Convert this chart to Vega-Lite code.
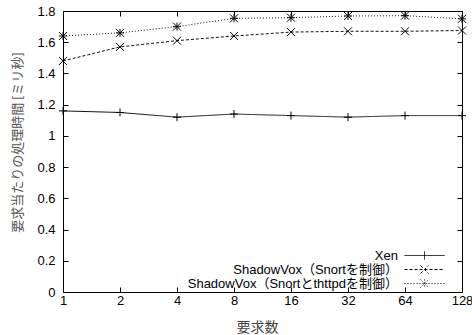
{
  "$schema": "https://vega.github.io/schema/vega-lite/v6.json",
  "width": 399,
  "height": 281,
  "autosize": "none",
  "padding": {"left": 63, "top": 11, "right": 10, "bottom": 43},
  "config": {
    "view": {"stroke": "#000", "strokeWidth": 1},
    "font": "Liberation Sans",
    "axis": {"grid": false, "domain": false, "tickColor": "#000", "tickSize": -5, "tickWidth": 1, "labelColor": "#000", "labelFont": "Liberation Sans", "labelFontSize": 13}
  },
  "data": {
    "values": [
      {"n": 1, "t": 1.16, "s": "Xen"},
      {"n": 2, "t": 1.15, "s": "Xen"},
      {"n": 4, "t": 1.12, "s": "Xen"},
      {"n": 8, "t": 1.14, "s": "Xen"},
      {"n": 16, "t": 1.13, "s": "Xen"},
      {"n": 32, "t": 1.12, "s": "Xen"},
      {"n": 64, "t": 1.13, "s": "Xen"},
      {"n": 128, "t": 1.13, "s": "Xen"},
      {"n": 1, "t": 1.48, "s": "ShadowVox（Snortを制御）"},
      {"n": 2, "t": 1.57, "s": "ShadowVox（Snortを制御）"},
      {"n": 4, "t": 1.61, "s": "ShadowVox（Snortを制御）"},
      {"n": 8, "t": 1.64, "s": "ShadowVox（Snortを制御）"},
      {"n": 16, "t": 1.665, "s": "ShadowVox（Snortを制御）"},
      {"n": 32, "t": 1.67, "s": "ShadowVox（Snortを制御）"},
      {"n": 64, "t": 1.67, "s": "ShadowVox（Snortを制御）"},
      {"n": 128, "t": 1.675, "s": "ShadowVox（Snortを制御）"},
      {"n": 1, "t": 1.64, "s": "ShadowVox（Snortとthttpdを制御）"},
      {"n": 2, "t": 1.66, "s": "ShadowVox（Snortとthttpdを制御）"},
      {"n": 4, "t": 1.70, "s": "ShadowVox（Snortとthttpdを制御）"},
      {"n": 8, "t": 1.753, "s": "ShadowVox（Snortとthttpdを制御）"},
      {"n": 16, "t": 1.757, "s": "ShadowVox（Snortとthttpdを制御）"},
      {"n": 32, "t": 1.768, "s": "ShadowVox（Snortとthttpdを制御）"},
      {"n": 64, "t": 1.77, "s": "ShadowVox（Snortとthttpdを制御）"},
      {"n": 128, "t": 1.75, "s": "ShadowVox（Snortとthttpdを制御）"}
    ]
  },
  "layer": [
    {
      "mark": {"type": "line", "color": "#111", "strokeWidth": 1},
      "encoding": {
        "x": {"field": "n", "type": "quantitative",
          "scale": {"type": "log", "base": 2, "domain": [1, 128], "nice": false},
          "axis": {"orient": "bottom", "values": [1, 2, 4, 8, 16, 32, 64, 128], "format": "d", "labelPadding": 7, "title": "要求数", "titleFont": "Noto Sans CJK JP", "titleFontSize": 14, "titleFontWeight": "normal", "titleColor": "#444", "titleX": 194, "titleY": 35, "titleBaseline": "middle", "titleAlign": "center", "labelFlush": false}},
        "y": {"field": "t", "type": "quantitative",
          "scale": {"domain": [0, 1.8], "nice": false, "zero": true},
          "axis": {"orient": "left", "values": [0, 0.2, 0.4, 0.6, 0.8, 1, 1.2, 1.4, 1.6, 1.8], "format": "~g", "labelPadding": 13, "title": "要求当たりの処理時間 [ミリ秒]", "titleFont": "Noto Sans CJK JP", "titleFontSize": 13, "titleFontWeight": "normal", "titleColor": "#555", "titleX": -46, "titleY": 131, "titleAngle": 270, "titleBaseline": "middle", "titleAlign": "center", "labelFlush": false}},
        "strokeDash": {"field": "s", "type": "nominal",
          "scale": {"domain": ["Xen", "ShadowVox（Snortを制御）", "ShadowVox（Snortとthttpdを制御）"], "range": [[1, 0], [3, 2], [1, 2]]},
          "legend": {
            "title": null, "orient": "none", "legendX": 355, "legendY": 238, "padding": 0, "rowPadding": -2,
            "symbolSize": 100, "symbolStrokeWidth": 1, "symbolStrokeColor": "#000",
            "labelAlign": "right", "labelOffset": -33, "labelLimit": 0,
            "labelFont": "Liberation Sans, Noto Sans CJK JP", "labelFontSize": 13, "labelColor": "#000",
            "encode": {"symbols": {"update": {
              "shape": {"signal": "datum.value === 'ShadowVox（Snortとthttpdを制御）' ? 'M-4,0L4,0M0,-0.8L0,0.8M-0.8,-0.8L0.8,0.8M-0.8,0.8L0.8,-0.8' : (datum.value === 'ShadowVox（Snortを制御）' ? 'M-4,0L4,0M-0.8,-0.8L0.8,0.8M-0.8,0.8L0.8,-0.8' : 'M-4,0L4,0M0,-0.8L0,0.8')"},
              "stroke": {"value": "#000"},
              "fill": {"value": "transparent"},
              "strokeWidth": {"value": 1}
            }}}
          }}
      }
    },
    {
      "transform": [{"filter": {"field": "s", "equal": "Xen"}}],
      "mark": {"type": "point", "filled": false, "stroke": "#000", "strokeWidth": 1, "size": 64, "opacity": 1, "shape": "M-1,0L1,0M0,-1L0,1"},
      "encoding": {
        "x": {"field": "n", "type": "quantitative",
          "axis": {"orient": "top", "values": [1, 2, 4, 8, 16, 32, 64, 128], "labels": false, "title": null}},
        "y": {"field": "t", "type": "quantitative",
          "axis": {"orient": "right", "values": [0, 0.2, 0.4, 0.6, 0.8, 1, 1.2, 1.4, 1.6, 1.8], "labels": false, "title": null}}
      }
    },
    {
      "transform": [{"filter": {"field": "s", "equal": "ShadowVox（Snortを制御）"}}],
      "mark": {"type": "point", "filled": false, "stroke": "#000", "strokeWidth": 1, "size": 64, "opacity": 1, "shape": "M-1,-1L1,1M-1,1L1,-1"},
      "encoding": {
        "x": {"field": "n", "type": "quantitative", "axis": null},
        "y": {"field": "t", "type": "quantitative", "axis": null}
      }
    },
    {
      "transform": [{"filter": {"field": "s", "equal": "ShadowVox（Snortとthttpdを制御）"}}],
      "mark": {"type": "point", "filled": false, "stroke": "#000", "strokeWidth": 1, "size": 64, "opacity": 1, "shape": "M-1,0L1,0M0,-1L0,1M-1,-1L1,1M-1,1L1,-1"},
      "encoding": {
        "x": {"field": "n", "type": "quantitative", "axis": null},
        "y": {"field": "t", "type": "quantitative", "axis": null}
      }
    }
  ]
}
